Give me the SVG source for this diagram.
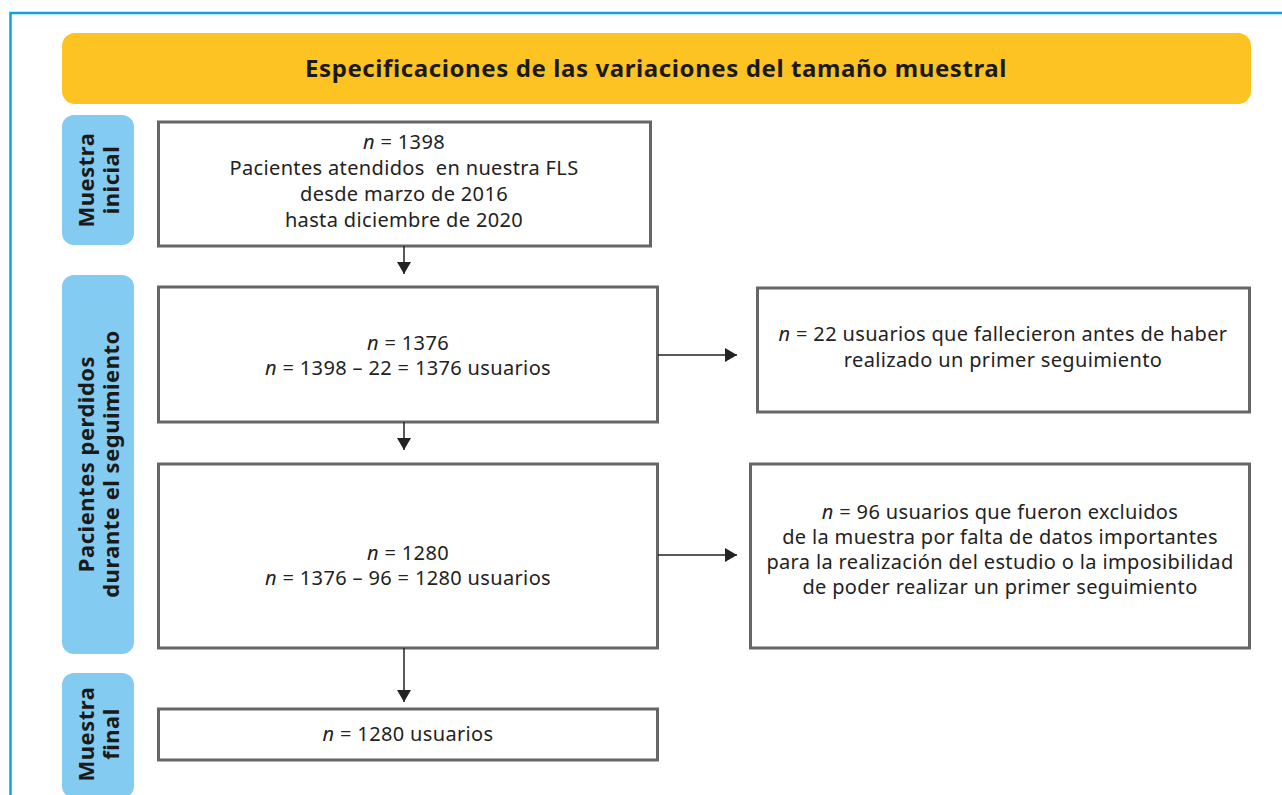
<svg xmlns="http://www.w3.org/2000/svg" width="1282" height="795" viewBox="0 0 1282 795">
<style>
.box{fill:#fff;stroke:#666;stroke-width:3}
.side{fill:#83CBF0}
.t{font-family:"Noto Sans","Open Sans",sans-serif;font-size:20px;letter-spacing:0.35px;fill:#222;text-anchor:middle}
.st{font-family:"Noto Sans","Open Sans",sans-serif;font-size:22px;font-weight:bold;letter-spacing:0.5px;fill:#1a1a1a;text-anchor:middle}
.ln{stroke:#222;stroke-width:1.5;fill:none}
</style>
<defs>
<marker id="ah2" viewBox="0 0 12 14" refX="12" refY="7" markerWidth="12" markerHeight="14" markerUnits="userSpaceOnUse" orient="auto"><path d="M0,0 L12,7 L0,14 z" fill="#222"/></marker>
</defs>
<rect width="1282" height="795" fill="#fff"/>
<rect x="10.5" y="13" width="1290" height="800" fill="none" stroke="#0AA5E0" stroke-width="2.5"/>
<g id="header">
<rect x="62" y="33" width="1189" height="71" rx="13" fill="#FDC323"/>
<text x="656" y="77" font-family="'Noto Sans','Open Sans',sans-serif" font-size="24" font-weight="bold" letter-spacing="0.6" fill="#1a1a1a" text-anchor="middle">Especificaciones de las variaciones del tamaño muestral</text>
</g>
<g id="side-inicial">
<rect class="side" x="62" y="115" width="72" height="130" rx="12"/>
<text class="st" transform="translate(94,180) rotate(-90)">Muestra</text>
<text class="st" transform="translate(119,180) rotate(-90)">inicial</text>
</g>
<g id="side-perdidos">
<rect class="side" x="62" y="275" width="72" height="379" rx="12"/>
<text class="st" transform="translate(94,464) rotate(-90)">Pacientes perdidos</text>
<text class="st" transform="translate(119,464) rotate(-90)">durante el seguimiento</text>
</g>
<g id="side-final">
<rect class="side" x="62" y="673" width="72" height="125" rx="12"/>
<text class="st" transform="translate(94,734) rotate(-90)">Muestra</text>
<text class="st" transform="translate(119,734) rotate(-90)">final</text>
</g>
<g id="n1398">
<rect class="box" x="158.5" y="122" width="492" height="124"/>
<text class="t" x="404" y="149"><tspan font-style="italic">n</tspan> = 1398</text>
<text class="t" x="404" y="175" xml:space="preserve">Pacientes atendidos  en nuestra FLS</text>
<text class="t" x="404" y="201">desde marzo de 2016</text>
<text class="t" x="404" y="227">hasta diciembre de 2020</text>
</g>
<g id="n1376">
<rect class="box" x="158.5" y="287" width="499" height="135"/>
<text class="t" x="408" y="350"><tspan font-style="italic">n</tspan> = 1376</text>
<text class="t" x="408" y="375"><tspan font-style="italic">n</tspan> = 1398 – 22 = 1376 usuarios</text>
</g>
<g id="fallecidos">
<rect class="box" x="757.5" y="288" width="492" height="124"/>
<text class="t" x="1003" y="341"><tspan font-style="italic">n</tspan> = 22 usuarios que fallecieron antes de haber</text>
<text class="t" x="1003" y="367">realizado un primer seguimiento</text>
</g>
<g id="n1280">
<rect class="box" x="158.5" y="464" width="499" height="184"/>
<text class="t" x="408" y="560"><tspan font-style="italic">n</tspan> = 1280</text>
<text class="t" x="408" y="585"><tspan font-style="italic">n</tspan> = 1376 – 96 = 1280 usuarios</text>
</g>
<g id="excluidos">
<rect class="box" x="750.5" y="464" width="499" height="184"/>
<text class="t" x="1000" y="519"><tspan font-style="italic">n</tspan> = 96 usuarios que fueron excluidos</text>
<text class="t" x="1000" y="544">de la muestra por falta de datos importantes</text>
<text class="t" x="1000" y="569">para la realización del estudio o la imposibilidad</text>
<text class="t" x="1000" y="594">de poder realizar un primer seguimiento</text>
</g>
<g id="final">
<rect class="box" x="158.5" y="709" width="499" height="51"/>
<text class="t" x="408" y="741"><tspan font-style="italic">n</tspan> = 1280 usuarios</text>
</g>
<g id="connectors">
<line class="ln" x1="404" y1="246" x2="404" y2="274" marker-end="url(#ah2)"/>
<line class="ln" x1="404" y1="422" x2="404" y2="450" marker-end="url(#ah2)"/>
<line class="ln" x1="404" y1="648" x2="404" y2="702" marker-end="url(#ah2)"/>
<line class="ln" x1="658" y1="355" x2="737" y2="355" marker-end="url(#ah2)"/>
<line class="ln" x1="658" y1="555" x2="737" y2="555" marker-end="url(#ah2)"/>
</g>
</svg>
